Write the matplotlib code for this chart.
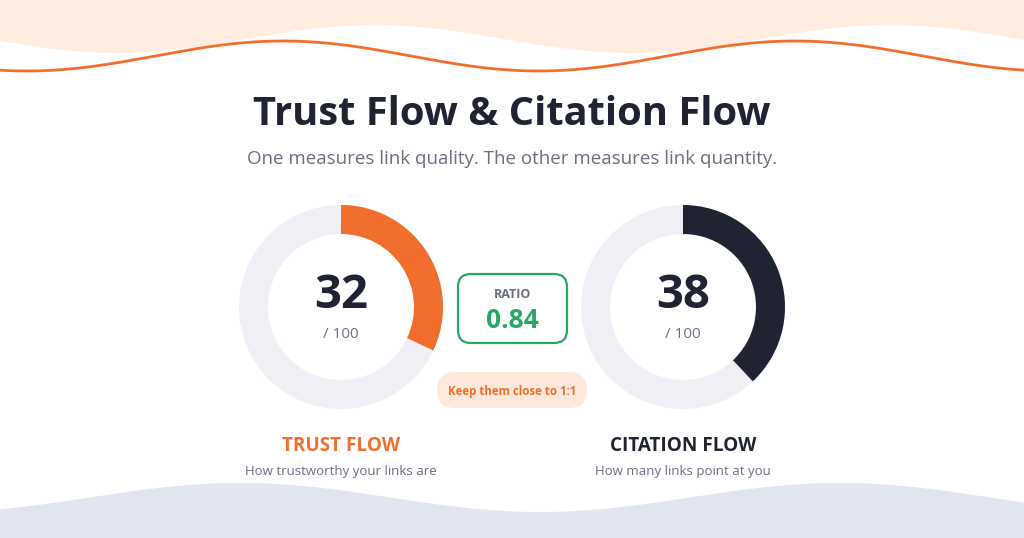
import matplotlib
matplotlib.use("Agg")
import matplotlib.pyplot as plt
import numpy as np
from matplotlib.patches import Wedge, FancyBboxPatch

# values
metric_names = ["TRUST FLOW", "CITATION FLOW"]
metric_values = [32, 38]
metric_max = 100
metric_desc = ["How trustworthy your links are", "How many links point at you"]
ratio_value = 0.84

title = "Trust Flow & Citation Flow"
subtitle = "One measures link quality. The other measures link quantity."
hint = "Keep them close to 1:1"

# colours
ORANGE = "#f26e2d"
NAVY = "#1f2332"
TRACK = "#efeff5"
GREEN = "#27a866"
GRAY = "#6b7080"
PEACH = "#ffede1"
LAVENDER = "#e2e6f0"

FONT = "Open Sans"

fig = plt.figure(figsize=(10.24, 5.38), dpi=100)
ax = fig.add_axes([0, 0, 1, 1])
ax.set_xlim(0, 1024)
ax.set_ylim(538, 0)
ax.axis("off")

# decorative waves
xs = np.linspace(0, 1024, 600)
top_fill = 39 - 14 * np.cos(2 * np.pi * (xs - 375) / 515)
ax.fill_between(xs, 0, top_fill, color=PEACH, lw=0, zorder=1)
top_line = 56 - 15 * np.cos(2 * np.pi * (xs - 283) / 512)
ax.plot(xs, top_line, color=ORANGE, lw=2, zorder=2)
bot_fill = 497.5 - 14.5 * np.cos(2 * np.pi * (xs - 240) / 600)
ax.fill_between(xs, bot_fill, 538, color=LAVENDER, lw=0, zorder=1)

# title
ax.text(512, 125, title, ha="center", va="baseline", fontsize=28.7,
        fontweight="bold", color=NAVY, family=FONT)
ax.text(512, 164, subtitle, ha="center", va="baseline", fontsize=13.5,
        color=GRAY, family=FONT)

# donuts
centers = [341, 683]
cy = 307
r_out, r_in = 102, 73
arc_colors = [ORANGE, NAVY]
label_colors = [ORANGE, NAVY]
for cx, val, col, lcol, name, desc in zip(centers, metric_values, arc_colors,
                                          label_colors, metric_names, metric_desc):
    ax.add_patch(Wedge((cx, cy), r_out, 0, 360, width=r_out - r_in,
                       color=TRACK, lw=0, zorder=3))
    end = -90 + 360 * val / metric_max
    ax.add_patch(Wedge((cx, cy), r_out, -90, end, width=r_out - r_in,
                       color=col, lw=0, zorder=4))
    ax.text(cx, 308, str(val), ha="center", va="baseline", fontsize=34,
            fontweight="bold", color=NAVY, family=FONT, zorder=5)
    ax.text(cx, 338, f"/ {metric_max}", ha="center", va="baseline",
            fontsize=11, color=GRAY, family=FONT, zorder=5)
    ax.text(cx, 451, name, ha="center", va="baseline", fontsize=13.6,
            fontweight="bold", color=lcol, family=FONT, zorder=5)
    ax.text(cx, 475, desc, ha="center", va="baseline", fontsize=9.5,
            color=GRAY, family=FONT, zorder=5)

# ratio box
ax.add_patch(FancyBboxPatch((458, 274), 109, 69,
                            boxstyle="round,pad=0,rounding_size=13",
                            fc="white", ec=GREEN, lw=1.6, zorder=5))
ax.text(512.5, 298, "RATIO", ha="center", va="baseline", fontsize=9,
        fontweight="bold", color=GRAY, family=FONT, zorder=6)
ax.text(512.5, 328, f"{ratio_value:.2f}", ha="center", va="baseline",
        fontsize=19, fontweight="bold", color=GREEN, family=FONT, zorder=6)

# hint pill
ax.add_patch(FancyBboxPatch((437, 372), 150, 36,
                            boxstyle="round,pad=0,rounding_size=18",
                            fc="#fde9dc", ec="none", zorder=5))
ax.text(512, 394.5, hint, ha="center", va="baseline", fontsize=8.3,
        fontweight="bold", color=ORANGE, family=FONT, zorder=6)

fig.savefig("out.png", dpi=100, facecolor="white")
